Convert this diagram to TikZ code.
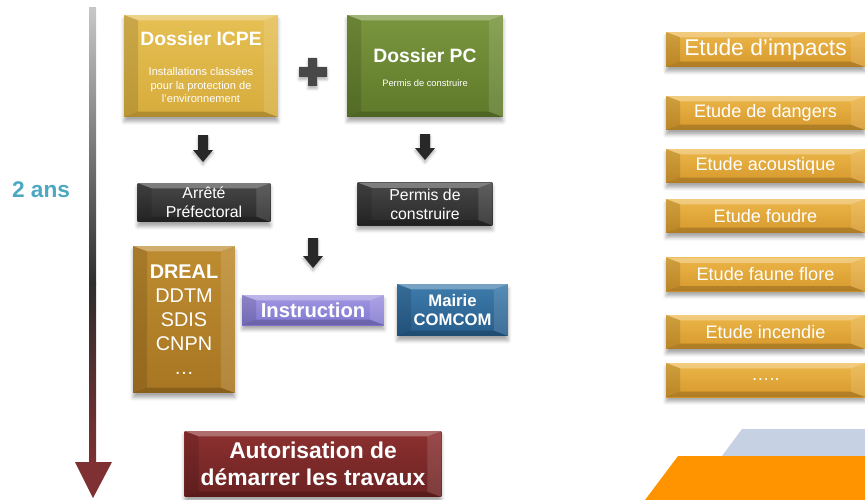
\documentclass[tikz,border=0pt]{standalone}
\usepackage{fontspec}
\setmainfont{Liberation Sans}
\usetikzlibrary{calc,shadows.blur}

\definecolor{orIcpe}{RGB}{230,192,84}
\definecolor{orIcpeB}{RGB}{214,172,60}
\definecolor{vertPc}{RGB}{122,150,62}
\definecolor{vertPcB}{RGB}{94,122,42}
\definecolor{grisFonce}{RGB}{72,72,72}
\definecolor{grisFonceB}{RGB}{40,40,40}
\definecolor{brunDreal}{RGB}{190,140,48}
\definecolor{brunDrealB}{RGB}{168,118,34}
\definecolor{lavande}{RGB}{160,150,226}
\definecolor{lavandeB}{RGB}{130,120,208}
\definecolor{bleuMairie}{RGB}{62,124,172}
\definecolor{bleuMairieB}{RGB}{38,92,138}
\definecolor{rougeAuto}{RGB}{140,48,48}
\definecolor{rougeAutoB}{RGB}{108,34,34}
\definecolor{orEtude}{RGB}{236,182,72}
\definecolor{orEtudeB}{RGB}{214,152,44}
\definecolor{tealTexte}{RGB}{75,168,192}
\definecolor{rougeFleche}{RGB}{126,48,50}
\definecolor{orangeDeco}{RGB}{255,147,0}
\definecolor{grisBleu}{RGB}{198,209,228}

% block arrow pointing down: x, y top, y tip
\def\flechebas(#1,#2,#3){\fill[grisFonceB, blur shadow={shadow xshift=0pt, shadow yshift=-1.5pt, shadow blur radius=1.5pt, shadow opacity=30}] ({#1-5},#2) -- ({#1+5},#2) -- ({#1+5},{#3-12}) -- ({#1+10},{#3-12}) -- (#1,#3) -- ({#1-10},{#3-12}) -- ({#1-5},{#3-12}) -- cycle;}

\tikzset{
  bevel/.style={path picture={
    \path (path picture bounding box.north west) coordinate (bnw)
          (path picture bounding box.south east) coordinate (bse)
          (bnw -| bse) coordinate (bne)
          (bnw |- bse) coordinate (bsw);
    \fill[white, opacity=.30] (bnw) -- (bne) -- ([shift={(-8pt,-3pt)}]bne) -- ([shift={(8pt,-3pt)}]bnw) -- cycle;
    \fill[black, opacity=.12] (bnw) -- ([shift={(8pt,-3pt)}]bnw) -- ([shift={(8pt,3pt)}]bsw) -- (bsw) -- cycle;
    \fill[white, opacity=.12] (bne) -- ([shift={(-8pt,-3pt)}]bne) -- ([shift={(-8pt,3pt)}]bse) -- (bse) -- cycle;
    \fill[black, opacity=.18] (bsw) -- (bse) -- ([shift={(-8pt,3pt)}]bse) -- ([shift={(8pt,3pt)}]bsw) -- cycle;
  }},
  boite/.style={inner sep=0pt, align=center, text=white, bevel,
    blur shadow={shadow xshift=0pt, shadow yshift=-2.5pt, shadow blur radius=2pt, shadow opacity=35}},
  boiteIcpe/.style={boite, top color=orIcpe, bottom color=orIcpeB},
  boitePc/.style={boite, top color=vertPc, bottom color=vertPcB},
  boiteNoire/.style={boite, top color=grisFonce, bottom color=grisFonceB, font=\fontsize{9}{10.8}\selectfont},
  boiteDreal/.style={boite, top color=brunDreal, bottom color=brunDrealB},
  boiteInstr/.style={boite, top color=lavande, bottom color=lavandeB},
  boiteMairie/.style={boite, top color=bleuMairie, bottom color=bleuMairieB},
  boiteAuto/.style={boite, top color=rougeAuto, bottom color=rougeAutoB},
  boiteEtude/.style={boite, top color=orEtude, bottom color=orEtudeB, minimum width=3.98cm, minimum height=0.68cm, font=\fontsize{10.3}{12}\selectfont},
  titre/.style={text=white, inner sep=0pt, font=\fontsize{11}{13}\selectfont\bfseries},
}

\begin{document}
\begin{tikzpicture}[x=0.02cm, y=-0.02cm]
  \useasboundingbox (0,0) rectangle (865,500);

  % time line
  \shade[top color=black!22, bottom color=black!82] (89,8) rectangle (96,283);
  \shade[top color=black!82, bottom color=rougeFleche] (89,283) rectangle (96,463);
  \fill[rougeFleche] (75,462) -- (112,462) -- (93,498) -- cycle;
  \node[text=tealTexte, font=\fontsize{12.9}{15}\selectfont\bfseries] (duree) at (41,190) {2 ans};

  % dossiers
  \node[boiteIcpe, minimum width=3.08cm, minimum height=2.04cm] (icpe) at (201,66) {};
  \node[titre] (icpeT) at (201,38.5) {Dossier ICPE};
  \node[text=white, inner sep=0pt, align=center, font=\fontsize{6.3}{7.6}\selectfont] (icpeS) at (201,85) {Installations classées\\pour la protection de\\l’environnement};

  \fill[grisFonce, blur shadow={shadow xshift=0pt, shadow yshift=-1.5pt, shadow blur radius=1.5pt, shadow opacity=30}]
    (308,58) -- (317,58) -- (317,67) -- (327,67) -- (327,77) -- (317,77) -- (317,86) -- (308,86) -- (308,77) -- (299,77) -- (299,67) -- (308,67) -- cycle;

  \node[boitePc, minimum width=3.12cm, minimum height=2.04cm] (pc) at (425,66) {};
  \node[titre] (pcT) at (425,56) {Dossier PC};
  \node[text=white, inner sep=0pt, font=\fontsize{5.3}{6.4}\selectfont] (pcS) at (425,83) {Permis de construire};

  \flechebas(203,135,162)
  \flechebas(425,134,160)

  \node[boiteNoire, minimum width=2.66cm, minimum height=0.78cm] (arrete) at (204,202.5) {Arrêté\\Préfectoral};
  \node[boiteNoire, minimum width=2.70cm, minimum height=0.86cm] (permis) at (425,204) {Permis de\\construire};

  \flechebas(313,238,268)

  % instruction
  \node[boiteDreal, minimum width=2.04cm, minimum height=2.94cm, font=\fontsize{11.3}{13.6}\selectfont] (dreal) at (184,319.5) {\textbf{DREAL}\\DDTM\\SDIS\\CNPN\\…};
  \node[boiteInstr, minimum width=2.84cm, minimum height=0.60cm, font=\fontsize{11.5}{13}\selectfont\bfseries] (instr) at (313,310) {Instruction};
  \node[boiteMairie, minimum width=2.22cm, minimum height=1.04cm, font=\fontsize{9.5}{10.8}\selectfont\bfseries] (mairie) at (452.5,310) {Mairie\\COMCOM};

  \node[boiteAuto, minimum width=5.14cm, minimum height=1.32cm, font=\fontsize{13}{15.3}\selectfont\bfseries] (auto) at (313,464) {Autorisation de\\démarrer les travaux};

  % etudes
  \node[boiteEtude, minimum height=0.70cm, font=\fontsize{13}{15}\selectfont] (impacts) at (765.5,49.5) {Etude d’impacts};
  \node[boiteEtude] (dangers) at (765.5,113) {Etude de dangers};
  \node[boiteEtude] (acoustique) at (765.5,166) {Etude acoustique};
  \node[boiteEtude] (foudre) at (765.5,216) {Etude foudre};
  \node[boiteEtude] (faune) at (765.5,274.5) {Etude faune flore};
  \node[boiteEtude] (incendie) at (765.5,332) {Etude incendie};
  \node[boiteEtude] (autres) at (765.5,380) {…..};

  % decor
  \fill[grisBleu] (742,429) -- (865,429) -- (865,456) -- (722,456) -- cycle;
  \fill[orangeDeco] (678,456) -- (865,456) -- (865,500) -- (645,500) -- cycle;
\end{tikzpicture}
\end{document}
